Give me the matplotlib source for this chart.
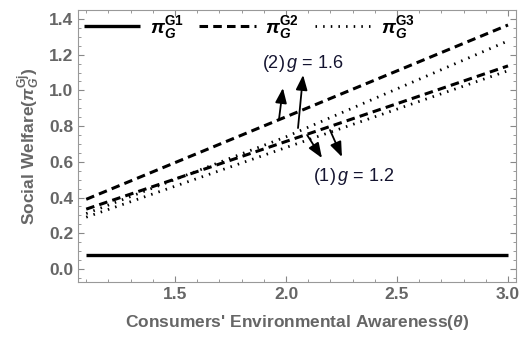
import matplotlib
matplotlib.use('Agg')
import matplotlib.pyplot as plt
from matplotlib.ticker import MultipleLocator
import numpy as np

plt.rcParams['font.family'] = ['Liberation Sans', 'DejaVu Sans']
plt.rcParams['mathtext.fontset'] = 'custom'
plt.rcParams['mathtext.rm'] = 'Liberation Sans'
plt.rcParams['mathtext.it'] = 'Liberation Sans:italic'
plt.rcParams['mathtext.bf'] = 'Liberation Sans:bold'
plt.rcParams['mathtext.bfit'] = 'Liberation Sans:bold:italic'

gray = '#666666'
txtcol = '#141430'

# consumers' environmental awareness (theta)
theta = [1.1, 2.0, 3.0]
# social welfare values
pi_g1 = [0.08, 0.08, 0.08]
pi_g2_16 = [0.39, 0.852, 1.366]
pi_g3_16 = [0.31, 0.74, 1.277]
pi_g2_12 = [0.335, 0.714, 1.137]
pi_g3_12 = [0.29, 0.68, 1.11]

labels = [r'$\mathbfit{\pi}_{\mathbfit{G}}^{\mathbf{G1}}$',
          r'$\mathbfit{\pi}_{\mathbfit{G}}^{\mathbf{G2}}$',
          r'$\mathbfit{\pi}_{\mathbfit{G}}^{\mathbf{G3}}$']

fig = plt.figure(figsize=(5.2, 3.43), dpi=100)
ax = fig.add_axes([78/520, 1-282/343, (516-78)/520, (282-10)/343])

dash = (0, (2.8, 1.7))
dot = (0, (0.55, 2.2))
l1, = ax.plot(theta, pi_g1, color='black', lw=2.4, solid_capstyle='butt')
l2, = ax.plot(theta, pi_g2_16, color='black', lw=2.2, ls=dash)
l3, = ax.plot(theta, pi_g3_16, color='black', lw=2.0, ls=dot)
ax.plot(theta, pi_g2_12, color='black', lw=2.2, ls=dash)
ax.plot(theta, pi_g3_12, color='black', lw=2.0, ls=dot)

ax.set_xlim(1.063, 3.036)
ax.set_ylim(-0.073, 1.45)
ax.xaxis.set_major_locator(MultipleLocator(0.5))
ax.xaxis.set_minor_locator(MultipleLocator(0.1))
ax.yaxis.set_major_locator(MultipleLocator(0.2))
ax.yaxis.set_minor_locator(MultipleLocator(0.05))
ax.tick_params(which='both', direction='in', top=True, right=True,
               colors='#888888', labelcolor=gray, labelsize=12.5)
ax.tick_params(which='major', length=4, width=0.8)
ax.tick_params(which='minor', length=2.5, width=0.6)
for lab in ax.get_xticklabels() + ax.get_yticklabels():
    lab.set_fontweight('bold')
for s in ax.spines.values():
    s.set_color('#999999')
    s.set_linewidth(0.8)

ax.set_xlabel(r"Consumers' Environmental Awareness($\mathbfit{\theta}$)",
              fontsize=12.5, fontweight='bold', color=gray, labelpad=8)
ax.set_ylabel(r"Social Welfare($\mathbfit{\pi}_{\mathbfit{G}}^{\mathbf{Gj}}$)",
              fontsize=12.5, fontweight='bold', color=gray, labelpad=5)

ax.legend([l1, l2, l3], labels, loc='upper left', ncol=3, frameon=False,
          fontsize=14, handlelength=2.9, handletextpad=0.5, columnspacing=0.8,
          bbox_to_anchor=(-0.018, 1.035), borderaxespad=0.3)

ax.text(1.892, 1.153, r'(2)$\,\mathit{g}$ = 1.6', fontsize=13, color=txtcol,
        va='center', ha='left')
ax.text(2.122, 0.515, r'(1)$\,\mathit{g}$ = 1.2', fontsize=13, color=txtcol,
        va='center', ha='left')

arrows = [((1.968, 0.834), (1.986, 1.013)),
          ((2.054, 0.789), (2.077, 1.086)),
          ((2.095, 0.750), (2.162, 0.621)),
          ((2.198, 0.778), (2.252, 0.627))]
for start, tip in arrows:
    ax.annotate('', xy=tip, xytext=start,
                arrowprops=dict(arrowstyle='-|>,head_length=0.9,head_width=0.35',
                                color='black', lw=1.3, shrinkA=0, shrinkB=0))

fig.savefig('out.png', dpi=100)
